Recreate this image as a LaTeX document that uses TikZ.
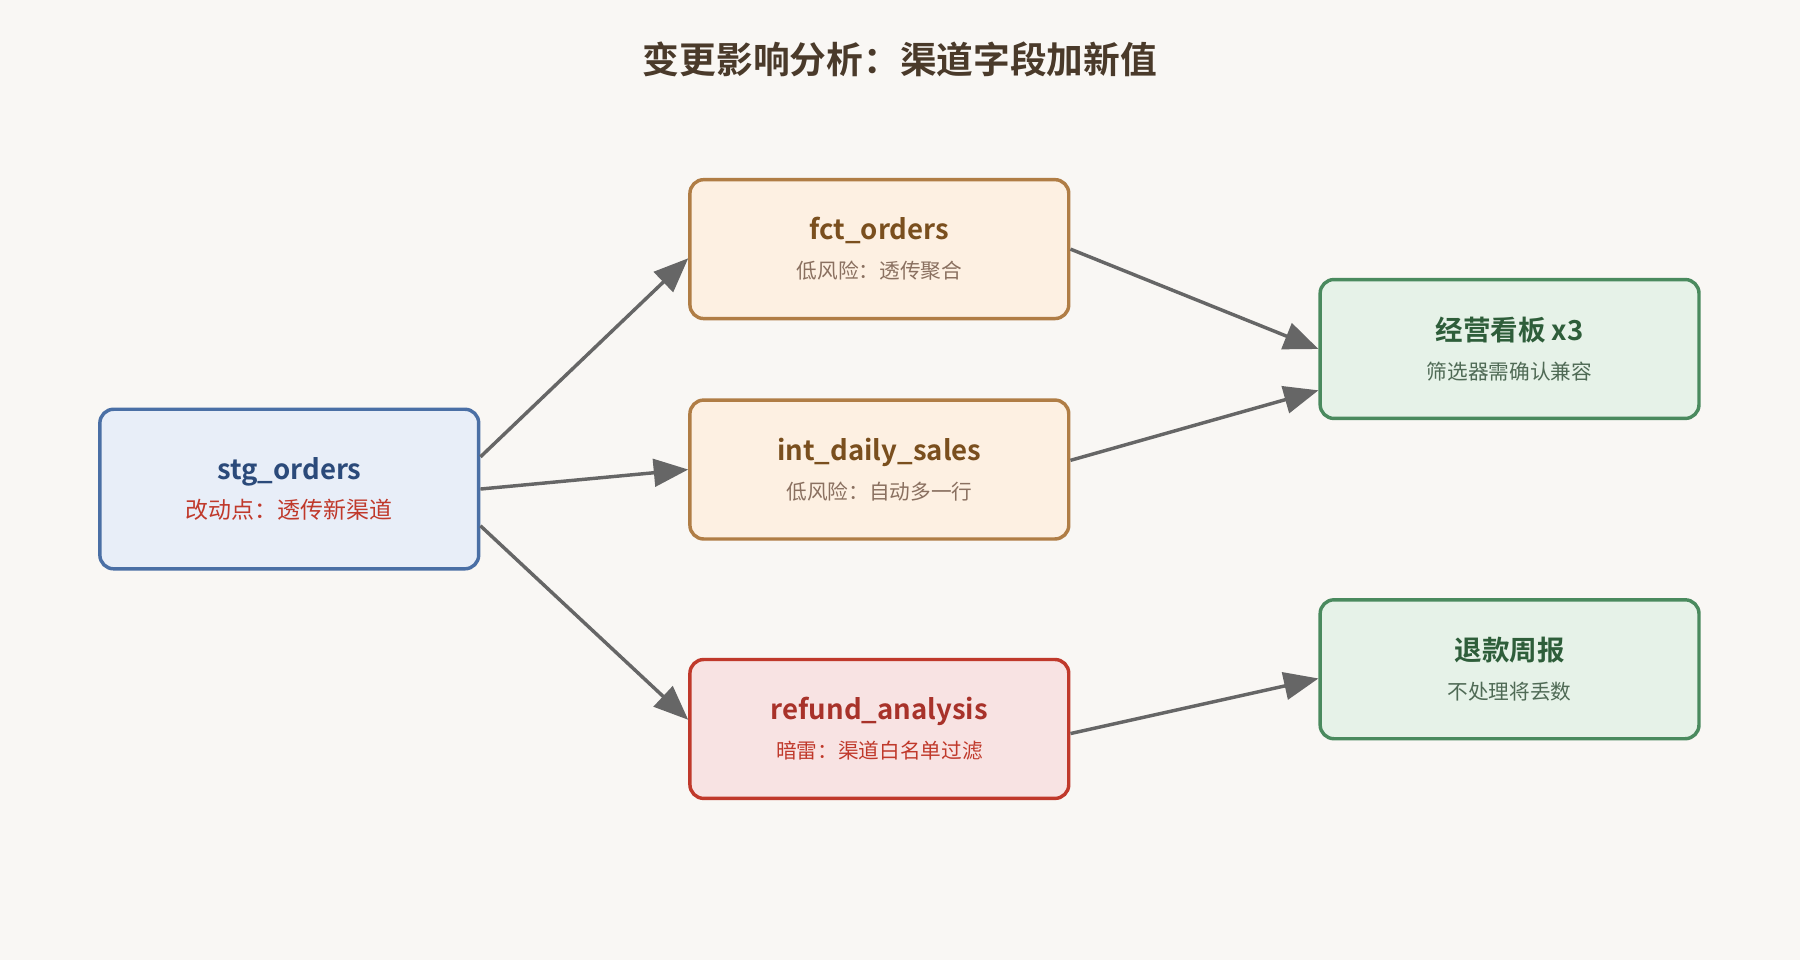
\documentclass[tikz,border=0pt]{standalone}
\usepackage{fontspec}
\setmainfont{Noto Sans CJK SC}[BoldFont=* Bold]
\usetikzlibrary{arrows.meta}
\definecolor{bg}{HTML}{F9F7F4}
\definecolor{stgfill}{HTML}{E8EEF8}\definecolor{stgdraw}{HTML}{4A6FA5}\definecolor{stgtext}{HTML}{2B4A7A}
\definecolor{lowfill}{HTML}{FDF0E2}\definecolor{lowdraw}{HTML}{B07D45}\definecolor{lowtext}{HTML}{7A4F1E}\definecolor{lowsub}{HTML}{8A7060}
\definecolor{riskfill}{HTML}{F8E3E3}\definecolor{riskdraw}{HTML}{C0392B}\definecolor{risktext}{HTML}{A8322A}
\definecolor{outfill}{HTML}{E6F2E8}\definecolor{outdraw}{HTML}{4A8A5E}\definecolor{outtext}{HTML}{2E5E3A}\definecolor{outsub}{HTML}{4F6A55}
\definecolor{edge}{HTML}{666666}
\definecolor{titlec}{HTML}{4A3A2A}
\begin{document}
\begin{tikzpicture}[
		x=0.5pt, y=-0.5pt,
		box/.style={rectangle, rounded corners=6pt, line width=1.5pt, align=center,
			minimum width=165pt, minimum height=60.5pt, inner sep=0pt},
		flow/.style={-{Triangle[length=15pt, width=12pt]}, edge, line width=1.5pt}
		]
		
		% --- background ---
		\fill[bg] (0,0) rectangle (1568,836);
		\node[font=\bfseries\fontsize{16}{18}\selectfont, titlec] (title) at (784,52) {变更影响分析：渠道字段加新值};
		
		% --- models ---
		\node[box, fill=stgfill, draw=stgdraw, minimum height=69.5pt] (stg) at (252,426)
			{\textcolor{stgtext}{\bfseries\fontsize{12}{14}\selectfont stg\_orders}\\[5pt]\textcolor{riskdraw}{\fontsize{10}{12}\selectfont 改动点：透传新渠道}};
		\node[box, fill=lowfill, draw=lowdraw] (fct) at (766,217)
			{\textcolor{lowtext}{\bfseries\fontsize{12}{14}\selectfont fct\_orders}\\[5pt]\textcolor{lowsub}{\fontsize{9}{11}\selectfont 低风险：透传聚合}};
		\node[box, fill=lowfill, draw=lowdraw] (int) at (766,409)
			{\textcolor{lowtext}{\bfseries\fontsize{12}{14}\selectfont int\_daily\_sales}\\[5pt]\textcolor{lowsub}{\fontsize{9}{11}\selectfont 低风险：自动多一行}};
		\node[box, fill=riskfill, draw=riskdraw] (refund) at (766,635)
			{\textcolor{risktext}{\bfseries\fontsize{12}{14}\selectfont refund\_analysis}\\[5pt]\textcolor{riskdraw}{\fontsize{9}{11}\selectfont 暗雷：渠道白名单过滤}};
		
		% --- consumers ---
		\node[box, fill=outfill, draw=outdraw] (dash) at (1315,304)
			{\textcolor{outtext}{\bfseries\fontsize{12}{14}\selectfont 经营看板 x3}\\[5pt]\textcolor{outsub}{\fontsize{9}{11}\selectfont 筛选器需确认兼容}};
		\node[box, fill=outfill, draw=outdraw] (weekly) at (1315,583)
			{\textcolor{outtext}{\bfseries\fontsize{12}{14}\selectfont 退款周报}\\[5pt]\textcolor{outsub}{\fontsize{9}{11}\selectfont 不处理将丢数}};
		
		% --- edges ---
		\draw[flow] ([yshift=14pt]stg.east) -- ([yshift=-4pt]fct.west);
		\draw[flow] (stg.east) -- (int.west);
		\draw[flow] ([yshift=-16pt]stg.east) -- ([yshift=4pt]refund.west);
		\draw[flow] (fct.east) -- ([yshift=0pt]dash.west);
		\draw[flow] ([yshift=4pt]int.east) -- ([yshift=-18pt]dash.west);
		\draw[flow] ([yshift=-2pt]refund.east) -- ([yshift=-4pt]weekly.west);
	\end{tikzpicture}
\end{document}
